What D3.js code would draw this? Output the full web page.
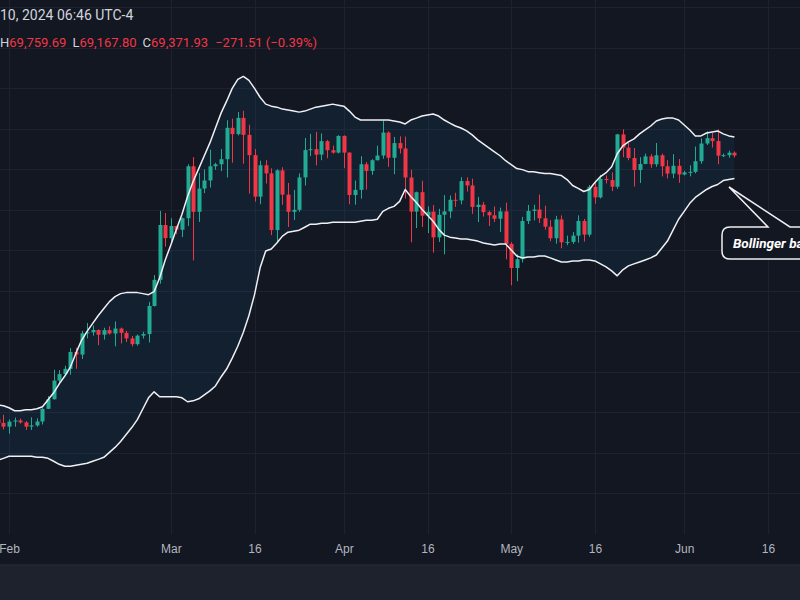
<!DOCTYPE html>
<html>
  <head>
    <meta charset="UTF-8" />
    <title>BTC diário com Bandas de Bollinger</title>
    <script src="https://d3js.org/d3.v7.min.js"></script>
    <style>
      body {
        margin: 0;
        background: #131722;
      }
      svg {
        display: block;
        font-family: Roboto, "Liberation Sans", sans-serif;
      }
      .tick text {
        fill: #b2b5be;
        font-size: 12px;
      }
    </style>
  </head>
  <body>
    <div id="chart"></div>
    <script>
      // Primeiro candle: 30 jan 2024 (um candle por dia)
      var firstDay = Date.UTC(2024, 0, 30);

      var opens = [
        43300, 42950,
        42580, 43080, 43190, 43000, 42580, 42700, 43090, 44340, 45290, 47130, 47770, 48290, 49950, 49700, 51800,
        51900, 52130, 51660, 52120, 51780, 52270, 51840, 51300, 50730, 51570, 51730, 54500, 57080, 62500,
        61200, 62400, 62030, 63170, 68300, 63800, 66100, 66900, 68300, 68500, 69000, 72100, 71480, 73080, 71400,
        69400, 65300, 68400, 67600, 62000, 67900, 65500, 63800, 64000, 67200, 69900, 69990, 69450, 70780, 69890, 69650,
        71300, 69650, 65460, 65970, 68500, 67840, 68900, 69360, 71630, 69140, 70590, 70060, 67190, 63820, 65740,
        63420, 63810, 61280, 63510, 63840, 64990, 64930, 66840, 66410, 64280, 64500, 63770, 63460, 63120, 63840,
        60640, 58250, 59120, 62890, 63890, 64030, 63160, 62330, 61190, 63050, 60790, 60830, 61450, 62900, 61550,
        66270, 65230, 67050, 66940, 66280, 71450, 70140, 69120, 67930, 68530, 69280, 68500, 69390, 68300, 67580, 68350,
        67490, 67700, 67750, 68800, 70550, 71080, 70790, 69350, 69400, 69640
      ];
      var highs = [
        43880, 43750,
        43290, 43480, 43380, 43120, 43500, 43400, 44400, 45600, 48200, 48170, 48590, 50330, 50370, 52040, 52820,
        52570, 52180, 52350, 52490, 52980, 52370, 52050, 51540, 51680, 51950, 54900, 57550, 63900, 63680,
        63170, 62430, 63230, 68500, 69200, 67640, 67990, 69950, 68650, 70000, 72850, 73000, 73650, 73780, 72400,
        70000, 68850, 68900, 68100, 68000, 68200, 66650, 65970, 67600, 71100, 71500, 71700, 71550, 70900, 70340, 71360,
        71350, 69680, 66900, 69290, 68720, 69000, 70330, 72800, 71750, 71200, 71260, 71230, 67950, 65800, 66870,
        64340, 64470, 64100, 65450, 65420, 65680, 67230, 67200, 67070, 65280, 64780, 63900, 64330, 64220, 64700,
        60800, 59600, 63300, 64480, 64500, 65500, 64400, 62980, 63400, 63450, 61450, 61800, 63450, 63100, 66450,
        66700, 67450, 67400, 67700, 71500, 71950, 70630, 70100, 69200, 69550, 69500, 70600, 69550, 68900, 69500, 69020,
        67850, 68400, 70250, 71050, 71750, 71600, 71950, 69550, 69850, 69760
      ];
      var lows = [
        42700, 42300,
        41880, 42580, 42880, 42260, 42250, 42570, 42790, 44330, 45240, 46800, 47630, 47710, 48300, 49260, 51300,
        51570, 50630, 51180, 51680, 50520, 50800, 50940, 50500, 50590, 51280, 50900, 54450, 56700, 60360,
        60800, 61600, 61300, 62400, 59000, 62800, 65650, 66200, 67950, 67820, 67190, 68650, 71350, 68560, 65600,
        64800, 64550, 66600, 61500, 60800, 64500, 62300, 63000, 63800, 66400, 69300, 68400, 68900, 69100, 69550, 69570,
        68110, 64550, 64500, 65100, 66000, 67450, 68870, 69040, 68250, 67520, 69560, 65100, 60800, 62200, 62300,
        61700, 59770, 60830, 59600, 63170, 64290, 64540, 65800, 63600, 62790, 63330, 62400, 62800, 61800, 59100,
        56550, 56950, 58800, 62600, 62950, 62700, 62030, 60900, 60650, 60200, 60500, 60630, 60750, 60860, 61330,
        64600, 65120, 66600, 65850, 66080, 69200, 68900, 66300, 66650, 68500, 68150, 68250, 67300, 67100, 67130, 66670,
        67400, 67300, 67600, 68550, 70400, 70150, 68500, 69200, 69150, 69170
      ];
      var closes = [
        42950, 42580,
        43080, 43190, 43000, 42580, 42700, 43090, 44340, 45290, 47130, 47770, 48290, 49950, 49700, 51800, 51900,
        52130, 51660, 52120, 51780, 52270, 51840, 51300, 50730, 51570, 51730, 54500, 57080, 62500, 61200,
        62400, 62030, 63170, 68300, 63800, 66100, 66900, 68300, 68500, 69000, 72100, 71480, 73080, 71400, 69400,
        65300, 68400, 67600, 62000, 67900, 65500, 63800, 64000, 67200, 69900, 69990, 69450, 70780, 69890, 69650, 71300,
        69650, 65460, 65970, 68500, 67840, 68900, 69360, 71630, 69140, 70590, 70060, 67190, 63820, 65740, 63420,
        63810, 61280, 63510, 63840, 64990, 64930, 66840, 66410, 64280, 64500, 63770, 63460, 63120, 63840, 60640,
        58250, 59120, 62890, 63890, 64030, 63160, 62330, 61190, 63050, 60790, 60830, 61450, 62900, 61550, 66270,
        65230, 67050, 66940, 66280, 71450, 70140, 69120, 67930, 68530, 69280, 68500, 69390, 68300, 67580, 68350, 67490,
        67700, 67750, 68800, 70550, 71080, 70790, 69350, 69400, 69640, 69370
      ];

      // Bandas de Bollinger (superior / inferior)
      var bbUpper = [
        44740, 44640, 44450, 44150, 44150, 44250, 44250, 44350, 44550, 45230, 45920, 46800, 47580, 48470, 49840,
        51110, 51990, 52780, 53560, 54250, 54930, 55420, 55720, 55820, 55820, 55820, 55720, 55620, 55910, 57290,
        59050, 60520, 62090, 63560, 65320, 66790, 68070, 69340, 70610, 72080, 73550, 74730, 76000, 76890, 77180,
        76790, 76000, 75120, 74440, 74240, 74140, 73950, 73850, 73750, 73650, 73750, 73950, 74140, 74240, 74340,
        74440, 74340, 74240, 73750, 73160, 72870, 72870, 72870, 72870, 72870, 72870, 72770, 72670, 72480, 72870,
        73060, 73260, 73360, 73460, 73260, 72870, 72570, 72280, 72080, 71790, 71400, 70910, 70520, 70120, 69730,
        69340, 68850, 68460, 68070, 67970, 67770, 67770, 67670, 67580, 67580, 67480, 67380, 66990, 66400, 66110,
        65810, 66010, 66690, 67280, 67670, 68260, 69540, 70320, 70710, 71010, 71500, 71890, 72280, 72770, 72970,
        73060, 73060, 72870, 72380, 71890, 71300, 71300, 71590, 71690, 71790, 71500, 71300, 71200
      ];
      var bbLower = [
        39250, 39450, 39650, 39650, 39650, 39650, 39650, 39550, 39550, 39450, 39160, 38860, 38670, 38670, 38760,
        38860, 38960, 39160, 39350, 39550, 40040, 40530, 41120, 41800, 42490, 43270, 44350, 45430, 46020, 45530,
        45530, 45530, 45530, 45430, 45040, 45130, 45330, 45720, 46110, 46600, 47490, 48270, 49350, 50520, 51900,
        53560, 55620, 58270, 59930, 60130, 60720, 61400, 61790, 61890, 61990, 62280, 62580, 62580, 62680, 62680,
        62770, 62770, 62770, 62770, 62770, 62870, 62970, 62970, 63070, 63850, 64150, 64340, 64830, 66010, 65320,
        64730, 64050, 63460, 62870, 62090, 61500, 61300, 61210, 61110, 61110, 61010, 60910, 60720, 60620, 60520,
        60620, 60620, 60030, 59440, 59250, 59340, 59340, 59440, 59440, 59250, 59050, 58850, 58850, 58950, 58950,
        59050, 59050, 58950, 58660, 58360, 57970, 57480, 58070, 58460, 58660, 58850, 59050, 59250, 59540, 60230,
        60910, 61990, 63070, 63850, 64640, 65220, 65620, 66010, 66300, 66500, 66890, 66990, 67090
      ];

      // Eixo do tempo
      var tickDates = [
        "2024-02-01", "2024-03-01", "2024-03-16", "2024-04-01", "2024-04-16",
        "2024-05-01", "2024-05-16", "2024-06-01", "2024-06-16"
      ];
      var tickLabels = ["Feb", "Mar", "16", "Apr", "16", "May", "16", "Jun", "16"];
      var priceGrid = [36000, 40000, 44000, 48000, 52000, 56000, 60000, 64000, 68000, 72000, 76000, 80000, 84000];

      // Cabeçalho (último candle)
      var headerDate = "10, 2024 06:46 UTC-4";
      var headerOHLC = [
        ["H", "69,759.69"],
        ["L", "69,167.80"],
        ["C", "69,371.93"],
        ["", "\u2212271.51 (\u22120.39%)"]
      ];

      var upColor = "#22ab94";
      var downColor = "#f23645";

      var width = 800,
        height = 600,
        plotBottom = 534;

      var candles = opens.map((o, i) => ({
        date: new Date(firstDay + i * 86400000),
        open: o,
        high: highs[i],
        low: lows[i],
        close: closes[i],
        upper: bbUpper[i],
        lower: bbLower[i]
      }));

      var svg = d3
        .select("#chart")
        .append("svg")
        .attr("width", width)
        .attr("height", height);

      svg.append("rect").attr("width", width).attr("height", height).attr("fill", "#131722");
      svg.append("rect").attr("y", 565).attr("width", width).attr("height", 35).attr("fill", "#1e222d");
      svg.append("line").attr("x1", 0).attr("x2", width).attr("y1", 565).attr("y2", 565).attr("stroke", "#2a2e39");

      // Escalas
      var x = d3
        .scaleUtc()
        .domain([new Date("2024-02-01T00:00:00Z"), new Date("2024-06-16T00:00:00Z")])
        .range([9, 767.9]);
      var y = d3.scaleLinear().domain([30000, 84726]).range([554, 0]);

      svg.append("clipPath").attr("id", "plot").append("rect")
        .attr("width", width).attr("height", plotBottom);

      // Grade
      var grid = svg.append("g").attr("clip-path", "url(#plot)");
      grid
        .selectAll(".hgrid")
        .data(priceGrid)
        .enter()
        .append("line")
        .attr("x1", 0)
        .attr("x2", width)
        .attr("y1", (d) => Math.round(y(d)) + 0.5)
        .attr("y2", (d) => Math.round(y(d)) + 0.5)
        .attr("stroke", "#1e2230");
      grid
        .selectAll(".vgrid")
        .data(tickDates)
        .enter()
        .append("line")
        .attr("x1", (d) => Math.round(x(new Date(d + "T00:00:00Z"))) + 0.5)
        .attr("x2", (d) => Math.round(x(new Date(d + "T00:00:00Z"))) + 0.5)
        .attr("y1", 0)
        .attr("y2", plotBottom + 3)
        .attr("stroke", "#1e2230");

      var plot = svg.append("g").attr("clip-path", "url(#plot)");

      // Preenchimento entre as bandas
      plot
        .append("path")
        .datum(candles)
        .attr("fill", "rgba(33,150,243,0.07)")
        .attr(
          "d",
          d3.area().x((d) => x(d.date)).y0((d) => y(d.lower)).y1((d) => y(d.upper))
        );

      // Candles
      var bodyW = 4;
      var c = plot
        .selectAll(".candle")
        .data(candles)
        .enter()
        .append("g")
        .attr("fill", (d) => (d.close >= d.open ? upColor : downColor))
        .attr("stroke", (d) => (d.close >= d.open ? upColor : downColor));

      c.append("line")
        .attr("x1", (d) => Math.round(x(d.date)) + 0.5)
        .attr("x2", (d) => Math.round(x(d.date)) + 0.5)
        .attr("y1", (d) => y(d.high))
        .attr("y2", (d) => y(d.low))
        .attr("stroke-width", 1);

      c.append("rect")
        .attr("x", (d) => Math.round(x(d.date)) + 0.5 - bodyW / 2)
        .attr("width", bodyW)
        .attr("y", (d) => y(Math.max(d.open, d.close)))
        .attr("height", (d) => Math.max(1, Math.abs(y(d.open) - y(d.close))))
        .attr("stroke", "none");

      // Linhas das bandas
      ["upper", "lower"].forEach((k) => {
        plot
          .append("path")
          .datum(candles)
          .attr("fill", "none")
          .attr("stroke", "#eef0f4")
          .attr("stroke-width", 1.5)
          .attr("stroke-linejoin", "round")
          .attr("d", d3.line().x((d) => x(d.date)).y((d) => y(d[k])));
      });

      // Eixo X
      var xAxis = svg
        .append("g")
        .attr("transform", "translate(0,541)")
        .call(
          d3
            .axisBottom(x)
            .tickValues(tickDates.map((d) => new Date(d + "T00:00:00Z")))
            .tickFormat((d, i) => tickLabels[i])
            .tickSize(0)
        );
      xAxis.select(".domain").remove();

      // Cabeçalho
      svg
        .append("text")
        .attr("x", 0)
        .attr("y", 20)
        .attr("fill", "#d1d4dc")
        .attr("font-size", 14)
        .text(headerDate);

      var ohlc = svg.append("text").attr("x", 0).attr("y", 47).attr("font-size", 13);
      headerOHLC.forEach((p, i) => {
        if (p[0]) {
          ohlc.append("tspan").attr("dx", i ? 6 : 0).attr("fill", "#d1d4dc").text(p[0]);
          ohlc.append("tspan").attr("fill", downColor).text(p[1]);
        } else {
          ohlc.append("tspan").attr("dx", 7).attr("fill", downColor).text(p[1]);
        }
      });

      // Anotação (balão com ponta apontando para a banda inferior)
      var boxL = 722, boxT = 227, boxB = 259, boxR = 830, rad = 8;
      svg
        .append("path")
        .attr(
          "d",
          "M" + (boxL + rad) + "," + boxT +
            " L768," + boxT +
            " L729,187 L790," + boxT +
            " L" + boxR + "," + boxT +
            " L" + boxR + "," + boxB +
            " L" + (boxL + rad) + "," + boxB +
            " Q" + boxL + "," + boxB + " " + boxL + "," + (boxB - rad) +
            " L" + boxL + "," + (boxT + rad) +
            " Q" + boxL + "," + boxT + " " + (boxL + rad) + "," + boxT + " Z"
        )
        .attr("fill", "#131722")
        .attr("stroke", "#eef0f4")
        .attr("stroke-width", 1.5);

      svg
        .append("text")
        .attr("x", 733)
        .attr("y", 248)
        .attr("fill", "#ffffff")
        .attr("font-size", 13.5)
        .attr("font-weight", "bold")
        .attr("font-style", "italic")
        .text("Bollinger bands");
    </script>
  </body>
</html>
